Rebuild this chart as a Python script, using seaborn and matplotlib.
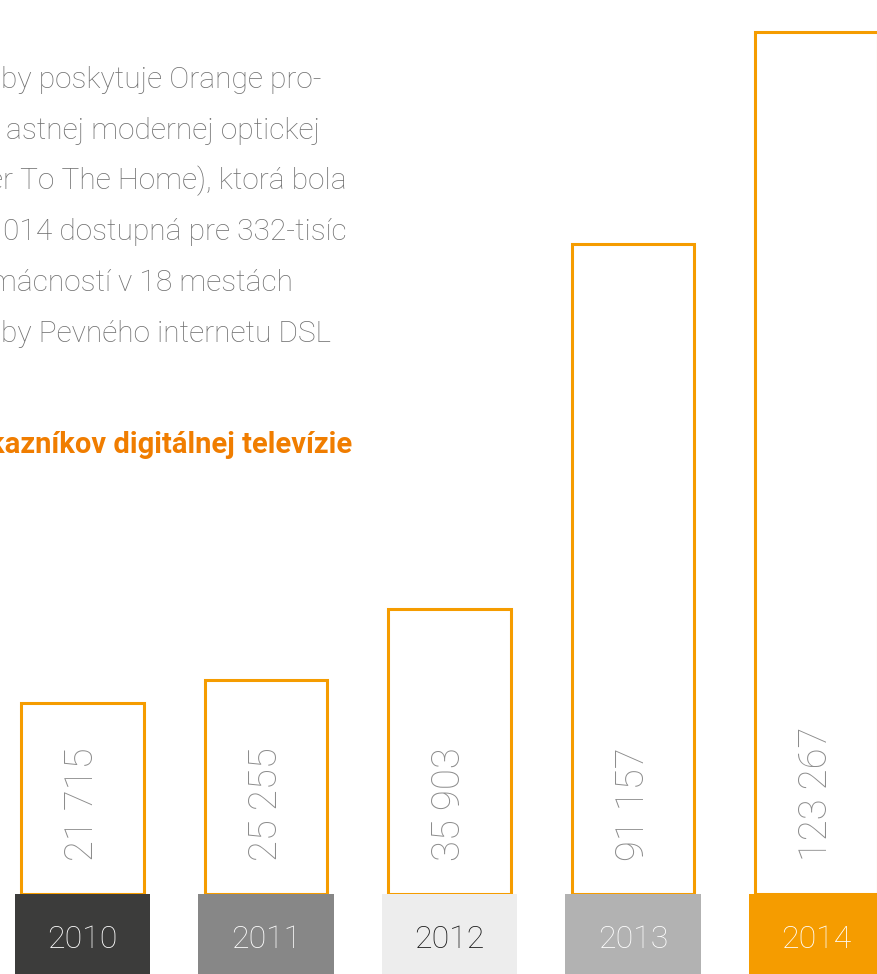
import numpy as np
import matplotlib
matplotlib.use("Agg")
import matplotlib.pyplot as plt
import seaborn as sns

# data
years = ["2010", "2011", "2012", "2013", "2014"]
customers = [21715, 25255, 35903, 91157, 123267]
value_labels = ["21 715", "25 255", "35 903", "91 157", "123 267"]
box_colors = ["#3c3c3b", "#878787", "#ededed", "#b2b2b2", "#f59c00"]
year_text_colors = ["white", "white", "#1a1a1a", "white", "white"]

# paragraph, cut by the left edge of the page
body_lines = [
    "by poskytuje Orange pro-",
    "astnej modernej optickej",
    "er To The Home), ktorá bola",
    "014 dostupná pre 332-tisíc",
    "mácností v 18 mestách",
    "by Pevného internetu DSL",
]
heading = "kazníkov digitálnej televízie"

sns.set_theme(style="white")
plt.rcParams["font.family"] = ["Roboto", "DejaVu Sans"]

W, H = 878, 974
fig = plt.figure(figsize=(W / 100, H / 100), dpi=100)
fig.patch.set_facecolor("white")

# layout (pixels)
x0, pitch = 82.5, 183.5
xlim = (-x0 / pitch, (W - x0) / pitch)
box_h = 80
base = -7205          # bars rise from the top of the year boxes
ytop = 128106

ax = fig.add_axes([0, box_h / H, 1, 1 - box_h / H])
ax_box = fig.add_axes([0, 0, 1, box_h / H])

# bars are drawn from the baseline up to each value
heights = np.array(customers) - base
sns.barplot(x=years, y=heights, ax=ax, fill=False, color="#f59c00",
            width=0.667, linewidth=2.2, bottom=base, errorbar=None)
ax.set_xlim(*xlim)
ax.set_ylim(base, ytop)
ax.axis("off")

for i, lab in enumerate(value_labels):
    ax.text(i, base + 33 * 151.4, lab, rotation=90, ha="center", va="bottom",
            fontsize=27.5, color="#8c8c8c", fontweight="light")

sns.barplot(x=years, y=np.ones(len(years)), hue=years, palette=box_colors,
            ax=ax_box, width=0.74, legend=False, errorbar=None,
            linewidth=0, saturation=1)
ax_box.set_xlim(*xlim)
ax_box.set_ylim(0, 1)
ax_box.axis("off")
for i, y in enumerate(years):
    ax_box.text(i, 0.43, y, ha="center", va="center", fontsize=23,
                color=year_text_colors[i], fontweight="light")

right_ends = [322, 320, 347, 347, 293, 331]
for k, line in enumerate(body_lines):
    yb = 88 + 50.8 * k
    fig.text(right_ends[k] / W, 1 - yb / H, line, ha="right", va="baseline",
             fontsize=21.5, color="#707070", fontweight="light")
fig.text(352 / W, 1 - 453 / H, heading, ha="right", va="baseline",
         fontsize=21, color="#f07d00", fontweight="bold")

fig.savefig("out.png", dpi=100, facecolor="white")
